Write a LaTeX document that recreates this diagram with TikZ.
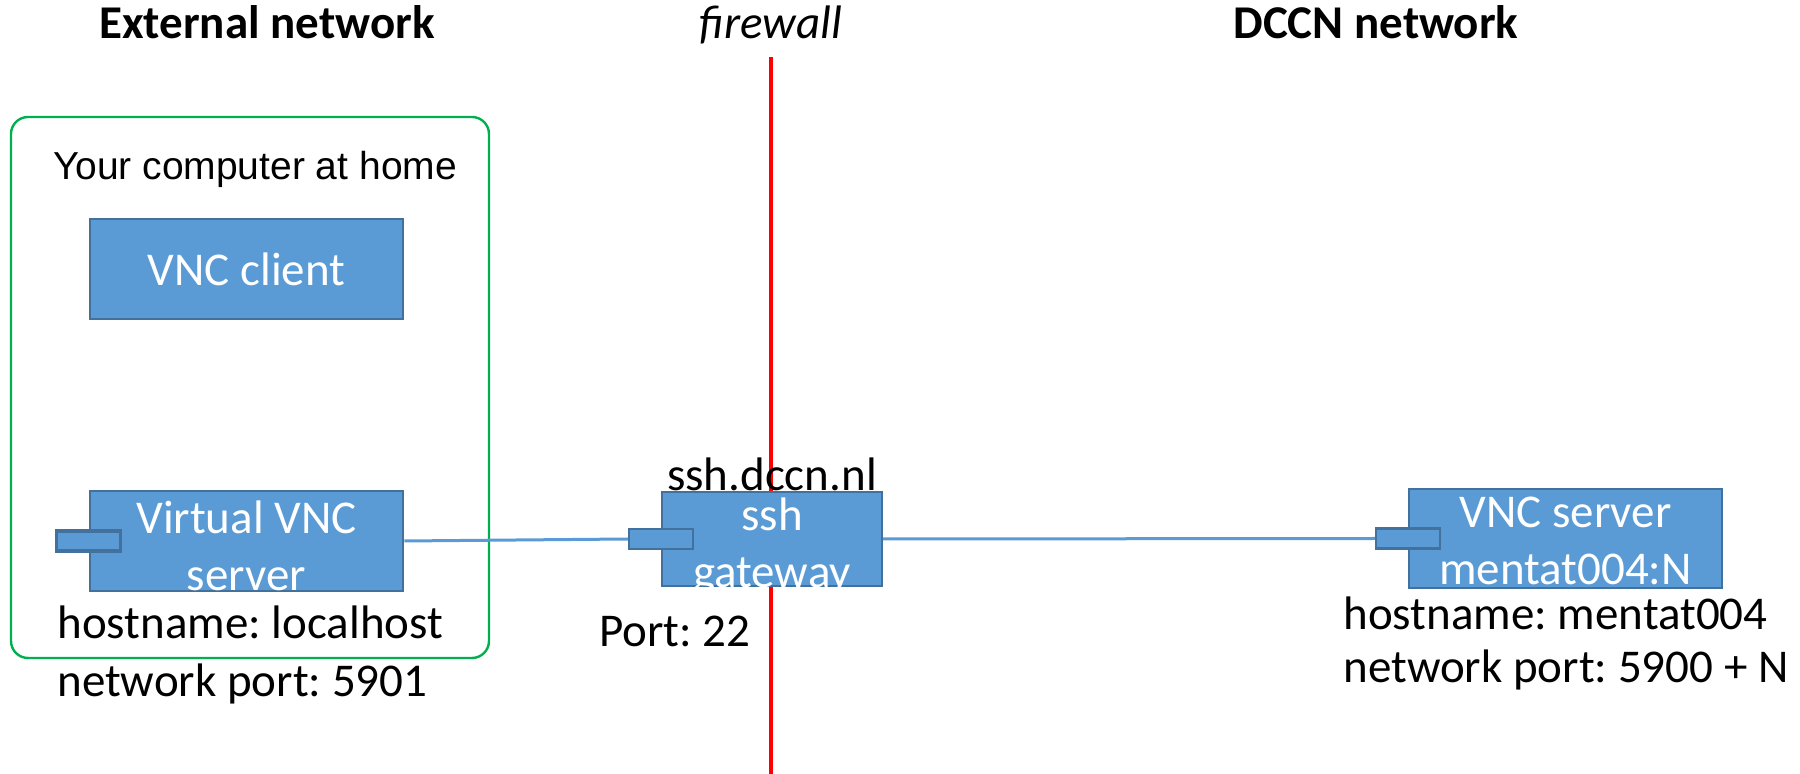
\documentclass[tikz,border=0pt]{standalone}
\usepackage{fontspec}
\setmainfont{Carlito}
\newfontfamily\arialfont{Liberation Sans}
\usetikzlibrary{positioning}

\definecolor{boxblue}{HTML}{5B9BD5}
\definecolor{boxedge}{HTML}{41719C}
\definecolor{homegreen}{HTML}{00B050}

\begin{document}
\frenchspacing
\begin{tikzpicture}[
			x=0.5pt, y=-0.5pt,
			every node/.style={inner sep=0pt, font=\fontsize{23.5}{28.5}\selectfont},
			header/.style={anchor=base, font=\fontsize{23.5}{28.5}\selectfont\bfseries},
			machine/.style={draw=boxedge, fill=boxblue, line width=1pt},
			port/.style={draw=boxedge, fill=boxblue, line width=1.2pt, minimum width=32pt, minimum height=10pt},
			boxtext/.style={text=white, align=center},
			info/.style={anchor=base west},
			wall/.style={draw=red, line width=2pt},
			link/.style={draw=boxblue, line width=1.5pt}
			]
			\useasboundingbox (0,0) rectangle (1800,774);
			
			% headers
			\node[header] (ext) at (267,39) {External network};
			\node[header, font=\fontsize{23.5}{28.5}\selectfont\itshape] (fw) at (771,39) {firewall};
			\node[header] (dccn) at (1376,39) {DCCN network};
			
			\draw[wall] (771,57) -- (771,774);
			
			% home computer
			\draw[homegreen, line width=1.2pt, rounded corners=8.5pt] (11,117) rectangle (489,658);
			\node[anchor=base, font=\fontsize{19.5}{23}\selectfont\arialfont] (home) at (255,180) {Your computer at home};
			
			\node[machine, minimum width=156.5pt, minimum height=50pt] (client) at (246.5,269) {};
			\node[boxtext] at (client) {VNC client};
			
			\node[machine, minimum width=156.5pt, minimum height=50pt, line width=1.4pt] (virtual) at (246.5,541) {};
			\node[port, line width=1.6pt] (vport) at (virtual.west) {};
			\node[boxtext] at ([yshift=-2.5pt]virtual.center) {Virtual VNC\\server};
			\node[info] (vhost) at (57,639) {hostname: localhost};
			\node[info] (vnum) at (57,697) {network port: 5901};
			
			% gateway
			\node[machine, minimum width=110pt, minimum height=47pt] (ssh) at (772,539) {};
			\node[port] (gport) at (ssh.west) {};
			\node[boxtext] at ([yshift=-4pt]ssh.center) {ssh\\gateway};
			\node[anchor=base] (sshname) at (772,491) {ssh.dccn.nl};
			\node[info] (sshport) at (599,647) {Port: 22};
			
			% dccn side
			\node[machine, minimum width=156.5pt, minimum height=49.5pt] (server) at (1565.5,538.5) {};
			\node[port] (sport) at (server.west) {};
			\node[boxtext] at ([yshift=-1pt]server.center) {VNC server\\mentat004:N};
			\node[info] (shost) at (1343,630) {hostname: mentat004};
			\node[info] (snum) at (1343,683) {network port: 5900 + N};
			
			\draw[link] (virtual.east) -- (gport.west);
			\draw[link] (ssh.east) -- (sport.west);
			
\end{tikzpicture}
\end{document}
